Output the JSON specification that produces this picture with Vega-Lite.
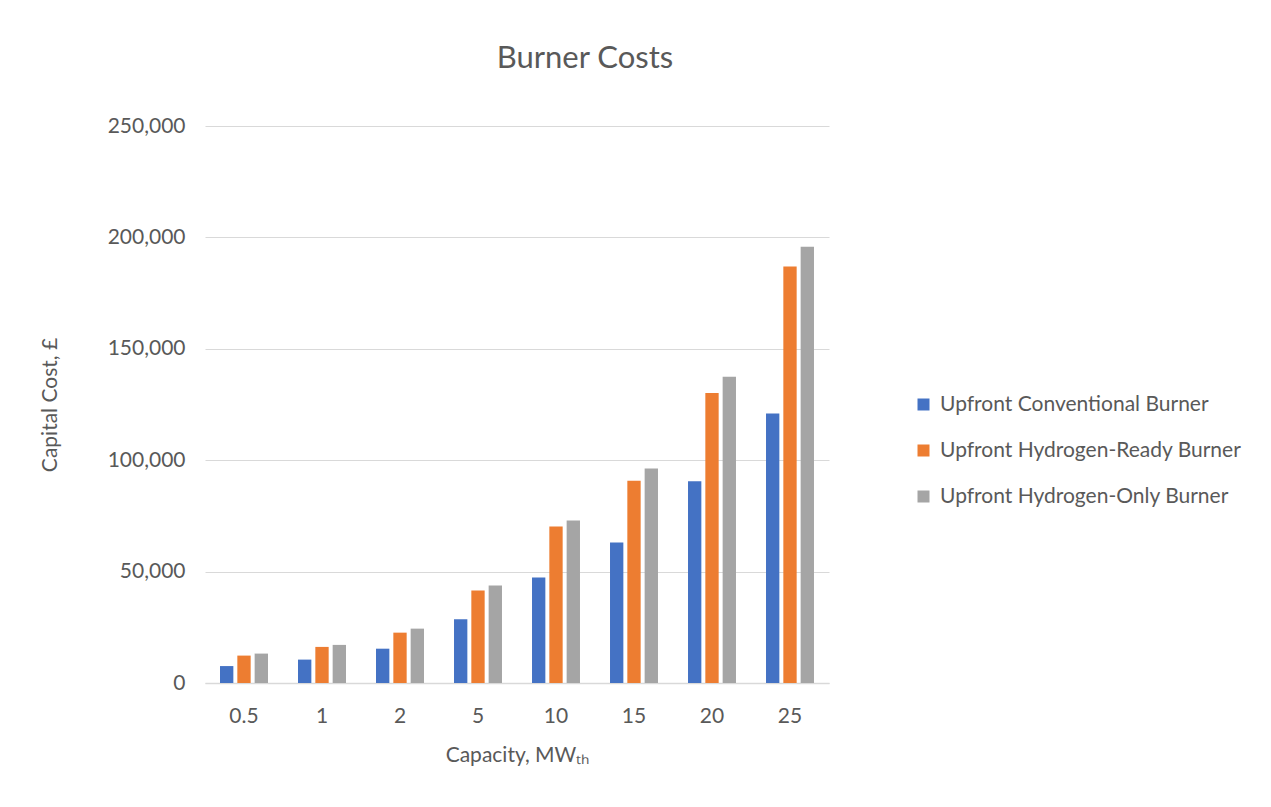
{
  "$schema": "https://vega.github.io/schema/vega-lite/v6.json",
  "width": 624,
  "height": 557,
  "autosize": {"type": "none"},
  "padding": {"left": 205, "top": 126, "right": 442, "bottom": 124},
  "background": "white",
  "config": {
    "font": "Lato",
    "view": {"stroke": null},
    "axis": {"labelFont": "Lato", "titleFont": "Lato", "labelColor": "#595959", "titleColor": "#595959", "labelFontSize": 21, "titleFontSize": 21, "titleFontWeight": "normal"},
    "legend": {"labelFont": "Lato", "labelColor": "#595959", "labelFontSize": 21, "labelLimit": 400}
  },
  "title": {"text": "Burner Costs", "fontSize": 31, "font": "Lato", "fontWeight": "normal", "color": "#595959", "anchor": "middle", "dx": 68, "offset": 40},
  "data": {"values": [
    {"cap": "0.5", "series": "Upfront Conventional Burner", "cost": 7600},
    {"cap": "0.5", "series": "Upfront Hydrogen-Ready Burner", "cost": 12300},
    {"cap": "0.5", "series": "Upfront Hydrogen-Only Burner", "cost": 13200},
    {"cap": "1", "series": "Upfront Conventional Burner", "cost": 10500},
    {"cap": "1", "series": "Upfront Hydrogen-Ready Burner", "cost": 16200},
    {"cap": "1", "series": "Upfront Hydrogen-Only Burner", "cost": 17100},
    {"cap": "2", "series": "Upfront Conventional Burner", "cost": 15400},
    {"cap": "2", "series": "Upfront Hydrogen-Ready Burner", "cost": 22600},
    {"cap": "2", "series": "Upfront Hydrogen-Only Burner", "cost": 24400},
    {"cap": "5", "series": "Upfront Conventional Burner", "cost": 28600},
    {"cap": "5", "series": "Upfront Hydrogen-Ready Burner", "cost": 41500},
    {"cap": "5", "series": "Upfront Hydrogen-Only Burner", "cost": 43800},
    {"cap": "10", "series": "Upfront Conventional Burner", "cost": 47300},
    {"cap": "10", "series": "Upfront Hydrogen-Ready Burner", "cost": 70200},
    {"cap": "10", "series": "Upfront Hydrogen-Only Burner", "cost": 72900},
    {"cap": "15", "series": "Upfront Conventional Burner", "cost": 63100},
    {"cap": "15", "series": "Upfront Hydrogen-Ready Burner", "cost": 90800},
    {"cap": "15", "series": "Upfront Hydrogen-Only Burner", "cost": 96300},
    {"cap": "20", "series": "Upfront Conventional Burner", "cost": 90500},
    {"cap": "20", "series": "Upfront Hydrogen-Ready Burner", "cost": 130200},
    {"cap": "20", "series": "Upfront Hydrogen-Only Burner", "cost": 137500},
    {"cap": "25", "series": "Upfront Conventional Burner", "cost": 121000},
    {"cap": "25", "series": "Upfront Hydrogen-Ready Burner", "cost": 186900},
    {"cap": "25", "series": "Upfront Hydrogen-Only Burner", "cost": 195800}
  ]},
  "mark": {"type": "bar"},
  "encoding": {
    "x": {
      "field": "cap", "type": "nominal",
      "sort": ["0.5", "1", "2", "5", "10", "15", "20", "25"],
      "scale": {"paddingInner": 0.385, "paddingOuter": 0.1925},
      "axis": {"title": "Capacity, MWₜₕ", "labelAngle": 0, "ticks": false, "tickSize": 0, "labelPadding": 22, "domainColor": "#d9d9d9", "domainWidth": 1.5, "grid": false, "titleBaseline": "middle", "titleY": 72}
    },
    "xOffset": {
      "field": "series", "type": "nominal",
      "sort": ["Upfront Conventional Burner", "Upfront Hydrogen-Ready Burner", "Upfront Hydrogen-Only Burner"],
      "scale": {"paddingInner": 0.23, "paddingOuter": 0}
    },
    "y": {
      "field": "cost", "type": "quantitative",
      "scale": {"domain": [0, 250000]},
      "axis": {"title": "Capital Cost, £", "values": [0, 50000, 100000, 150000, 200000, 250000], "format": ",.0f", "ticks": false, "tickSize": 0, "labelPadding": 20, "domain": false, "gridColor": "#d9d9d9", "gridWidth": 1.2, "titleBaseline": "middle", "titleX": -155, "titleY": 278.5}
    },
    "color": {
      "field": "series", "type": "nominal",
      "scale": {"domain": ["Upfront Conventional Burner", "Upfront Hydrogen-Ready Burner", "Upfront Hydrogen-Only Burner"], "range": ["#4472C4", "#ED7D31", "#A5A5A5"]},
      "legend": {"title": null, "orient": "none", "legendX": 708, "legendY": 268, "symbolType": "square", "symbolSize": 144, "symbolStrokeWidth": 0, "labelOffset": 6, "rowPadding": 24}
    }
  }
}
